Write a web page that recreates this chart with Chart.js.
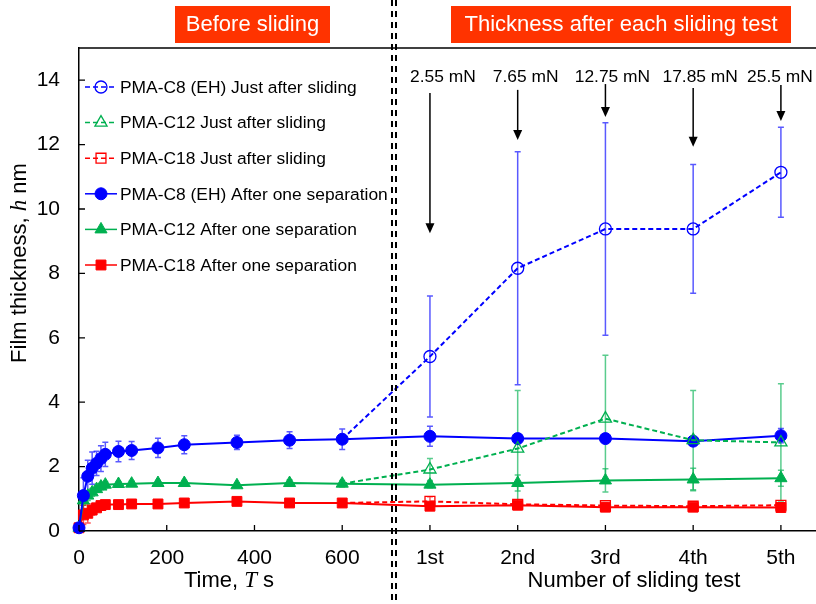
<!DOCTYPE html>
<html>
<head>
<meta charset="utf-8">
<script src="https://cdn.jsdelivr.net/npm/chart.js@4.4.1/dist/chart.umd.min.js"></script>
<style>
  html, body { margin: 0; padding: 0; background: #fff; }
  #wrap { width: 816px; height: 604px; }
</style>
</head>
<body>
<div id="wrap"><canvas id="chart" width="816" height="604"></canvas></div>
<script>
// --- data ---
const timeS = [0, 10, 20, 30, 40, 50, 60, 90, 120, 180, 240, 360, 480, 600];
const slidingTests = ['1st', '2nd', '3rd', '4th', '5th'];
const slidingX = [800, 1000, 1200, 1400, 1600];     // where the tests sit on the shared x axis
const loadLabels = ['2.55 mN', '7.65 mN', '12.75 mN', '17.85 mN', '25.5 mN'];
const xTickValues = [0, 200, 400, 600, 800, 1000, 1200, 1400, 1600];
const yTickValues = [0, 2, 4, 6, 8, 10, 12, 14];

// after one separation: time points then the 5 sliding tests
const c8Sep      = [0.1, 1.1, 1.7, 1.95, 2.1, 2.25, 2.38, 2.47, 2.5, 2.58, 2.68, 2.75, 2.82, 2.85,  2.94, 2.87, 2.87, 2.79, 2.96];
const c8SepErr   = [0.05, 0.55, 0.5, 0.5, 0.38, 0.4, 0.38, 0.32, 0.28, 0.3, 0.28, 0.22, 0.26, 0.32,  0.31, 0.15, 0.1, 0.1, 0.22];
const c12Sep     = [0.1, 0.95, 1.1, 1.2, 1.3, 1.38, 1.44, 1.46, 1.47, 1.49, 1.49, 1.42, 1.49, 1.47,  1.44, 1.49, 1.57, 1.6, 1.64];
const c12SepErr  = [0.05, 0.15, 0.15, 0.12, 0.1, 0.1, 0.1, 0.08, 0.08, 0.08, 0.08, 0.08, 0.1, 0.1,  0.1, 0.25, 0.36, 0.35, 0.25];
const c18Sep     = [0.1, 0.5, 0.55, 0.65, 0.72, 0.79, 0.82, 0.82, 0.84, 0.84, 0.87, 0.92, 0.87, 0.87,  0.77, 0.8, 0.74, 0.74, 0.73];
const c18SepErr  = [0.05, 0.3, 0.3, 0.15, 0.1, 0.08, 0.08, 0.06, 0.06, 0.06, 0.06, 0.06, 0.06, 0.06,  0.06, 0.06, 0.06, 0.06, 0.06];

// just after sliding: starts from the 600 s point, then the 5 tests
const c8Just     = [2.85, 5.42, 8.16, 9.38, 9.38, 11.14];
const c8JustErr  = [0, 1.88, 3.62, 3.3, 2.0, 1.4];
const c12Just    = [1.47, 1.91, 2.56, 3.49, 2.82, 2.75];
const c12JustErr = [0, 0.34, 1.8, 1.97, 1.54, 1.82];
const c18Just    = [0.87, 0.92, 0.83, 0.79, 0.77, 0.8];
const c18JustErr = [0, 0.14, 0.08, 0.08, 0.08, 0.08];

// arrows for the loads (in thickness units)
const arrowFrom = [13.6, 13.7, 13.88, 13.76, 13.85];
const arrowTo   = [9.25, 12.14, 12.86, 11.93, 12.73];
const labelShift = [13, 8, 7, 7, -1];

const BLUE = '#0000FF', GREEN = '#00B050', RED = '#FF0000';
const FONT = "'Liberation Sans', Arial, sans-serif";
const SERIF = "'Liberation Serif', 'Times New Roman', serif";

const sepX = timeS.concat(slidingX);
const justX = [600].concat(slidingX);
const pts = (xs, ys) => xs.map((x, i) => ({ x: x, y: ys[i] }));

function series(label, xs, ys, err, color, style, radius, open) {
    return {
        label: label,
        data: pts(xs, ys),
        err: err,
        borderColor: color,
        borderWidth: 2,
        borderDash: open ? [5, 3] : [],
        pointStyle: style,
        pointRadius: open ? ys.map((v, i) => i === 0 ? 0 : radius) : radius,
        pointBorderWidth: open ? 1.3 : 1,
        pointBorderColor: color,
        pointBackgroundColor: open ? 'rgba(255,255,255,0)' : color,
        tension: 0,
        clip: false
    };
}

const datasets = [
    series('PMA-C8 (EH) Just after sliding', justX, c8Just, c8JustErr, BLUE, 'circle', 6, true),
    series('PMA-C12 Just after sliding', justX, c12Just, c12JustErr, GREEN, 'triangle', 7, true),
    series('PMA-C18 Just after sliding', justX, c18Just, c18JustErr, RED, 'rect', 7, true),
    series('PMA-C8 (EH) After one separation', sepX, c8Sep, c8SepErr, BLUE, 'circle', 6, false),
    series('PMA-C12 After one separation', sepX, c12Sep, c12SepErr, GREEN, 'triangle', 7, false),
    series('PMA-C18 After one separation', sepX, c18Sep, c18SepErr, RED, 'rect', 7, false)
];

function fade(hex, a) {
    const n = parseInt(hex.slice(1), 16);
    return 'rgba(' + (n >> 16) + ',' + ((n >> 8) & 255) + ',' + (n & 255) + ',' + a + ')';
}

// draw runs of text with mixed fonts around a centre point
function drawRuns(ctx, runs, cx, cy, rotate) {
    ctx.save();
    ctx.translate(cx, cy);
    if (rotate) ctx.rotate(-Math.PI / 2);
    let total = 0;
    runs.forEach(r => { ctx.font = r.font; total += ctx.measureText(r.text).width; });
    let x = -total / 2;
    ctx.textBaseline = 'middle';
    ctx.textAlign = 'left';
    ctx.fillStyle = '#000';
    runs.forEach(r => {
        ctx.font = r.font;
        ctx.fillText(r.text, x, 0);
        x += ctx.measureText(r.text).width;
    });
    ctx.restore();
}

const errorBars = {
    id: 'errorBars',
    beforeDatasetsDraw(chart) {
        const ctx = chart.ctx, xs = chart.scales.x, ys = chart.scales.y;
        ctx.save();
        chart.data.datasets.forEach(ds => {
            ctx.strokeStyle = fade(ds.borderColor, 0.65);
            ctx.lineWidth = 1.5;
            ds.data.forEach((p, i) => {
                const e = ds.err[i];
                if (!e) return;
                const px = xs.getPixelForValue(p.x);
                const top = ys.getPixelForValue(p.y + e);
                const bot = ys.getPixelForValue(p.y - e);
                ctx.beginPath();
                ctx.moveTo(px, top); ctx.lineTo(px, bot);
                ctx.moveTo(px - 3, top); ctx.lineTo(px + 3, top);
                ctx.moveTo(px - 3, bot); ctx.lineTo(px + 3, bot);
                ctx.stroke();
            });
        });
        ctx.restore();
    }
};

const decorations = {
    id: 'decorations',
    afterDraw(chart) {
        const ctx = chart.ctx, area = chart.chartArea;
        const xs = chart.scales.x, ys = chart.scales.y;
        ctx.save();

        // frame top line
        ctx.strokeStyle = '#000';
        ctx.lineWidth = 1.5;
        ctx.beginPath();
        ctx.moveTo(area.left, area.top); ctx.lineTo(chart.width, area.top);
        ctx.stroke();

        // inward tick marks
        ctx.lineWidth = 1.3;
        ctx.beginPath();
        xTickValues.forEach(v => {
            const px = xs.getPixelForValue(v);
            ctx.moveTo(px, area.bottom); ctx.lineTo(px, area.bottom - 6);
        });
        yTickValues.forEach(v => {
            const py = ys.getPixelForValue(v);
            ctx.moveTo(area.left, py); ctx.lineTo(area.left + 6, py);
        });
        ctx.stroke();

        // double dashed separator
        ctx.lineWidth = 2;
        ctx.setLineDash([6, 5]);
        [713, 723].forEach(v => {
            const px = Math.round(xs.getPixelForValue(v));
            ctx.beginPath();
            ctx.moveTo(px, 0); ctx.lineTo(px, chart.height);
            ctx.stroke();
        });
        ctx.setLineDash([]);

        // header boxes
        ctx.fillStyle = '#FF3300';
        ctx.fillRect(175, 6, 155, 37);
        ctx.fillRect(451, 6, 340, 37);
        ctx.fillStyle = '#fff';
        ctx.font = '22px ' + FONT;
        ctx.textAlign = 'center';
        ctx.textBaseline = 'middle';
        ctx.fillText('Before sliding', 252.5, 25);
        ctx.fillText('Thickness after each sliding test', 621, 25);

        // load arrows and labels
        ctx.fillStyle = '#000';
        ctx.strokeStyle = '#000';
        ctx.lineWidth = 1.5;
        ctx.font = '17.4px ' + FONT;
        slidingX.forEach((v, i) => {
            const px = xs.getPixelForValue(v);
            const y0 = ys.getPixelForValue(arrowFrom[i]);
            const y1 = ys.getPixelForValue(arrowTo[i]);
            ctx.beginPath();
            ctx.moveTo(px, y0); ctx.lineTo(px, y1 - 8);
            ctx.stroke();
            ctx.beginPath();
            ctx.moveTo(px - 4.5, y1 - 10); ctx.lineTo(px + 4.5, y1 - 10); ctx.lineTo(px, y1);
            ctx.closePath();
            ctx.fill();
            ctx.fillText(loadLabels[i], px + labelShift[i], ys.getPixelForValue(14.1));
        });

        // axis titles
        drawRuns(ctx, [
            { text: 'Film thickness, ', font: '22px ' + FONT },
            { text: 'h', font: 'italic 23px ' + SERIF },
            { text: ' nm', font: '22px ' + FONT }
        ], 20, 263, true);
        drawRuns(ctx, [
            { text: 'Time, ', font: '22px ' + FONT },
            { text: 'T', font: 'italic 23px ' + SERIF },
            { text: ' s', font: '22px ' + FONT }
        ], 229, 581, false);
        drawRuns(ctx, [{ text: 'Number of sliding test', font: '22px ' + FONT }], 634, 581, false);

        // legend
        chart.data.datasets.forEach((ds, i) => {
            const y = 87 + i * 35.6;
            ctx.strokeStyle = ds.borderColor;
            ctx.lineWidth = 1.5;
            ctx.setLineDash(ds.borderDash);
            ctx.beginPath();
            ctx.moveTo(85, y); ctx.lineTo(117, y);
            ctx.stroke();
            ctx.setLineDash([]);
            ctx.fillStyle = ds.pointBackgroundColor;
            ctx.lineWidth = ds.pointBorderWidth;
            const r = ds.pointStyle === 'circle' ? 6 : 7;
            Chart.helpers.drawPoint(ctx, { pointStyle: ds.pointStyle, radius: r, borderWidth: ds.pointBorderWidth, rotation: 0 }, 101, y);
            ctx.fillStyle = '#000';
            ctx.font = '17.4px ' + FONT;
            ctx.textAlign = 'left';
            ctx.textBaseline = 'middle';
            ctx.fillText(ds.label, 120, y + 1);
        });

        ctx.restore();
    }
};

new Chart(document.getElementById('chart'), {
    type: 'line',
    data: { datasets: datasets },
    options: {
        responsive: false,
        animation: false,
        events: [],
        layout: { autoPadding: false, padding: { top: 48, right: 0, left: 0, bottom: 0 } },
        plugins: { legend: { display: false }, tooltip: { enabled: false } },
        scales: {
            x: {
                type: 'linear',
                min: 0,
                max: 1680,
                afterBuildTicks: s => { s.ticks = xTickValues.map(v => ({ value: v })); },
                afterFit: s => { s.height = 73; s.paddingLeft = 0; s.paddingRight = 0; },
                grid: { display: false, drawTicks: false },
                border: { display: true, color: '#000', width: 1.5 },
                ticks: {
                    autoSkip: false,
                    maxRotation: 0,
                    padding: 15,
                    color: '#000',
                    font: { size: 21, family: FONT },
                    callback: v => v <= 600 ? String(v) : slidingTests[(v - 800) / 200]
                }
            },
            y: {
                min: 0,
                max: 15,
                afterBuildTicks: s => { s.ticks = yTickValues.map(v => ({ value: v })); },
                afterFit: s => { s.width = 79; s.paddingTop = 0; s.paddingBottom = 0; },
                grid: { display: false, drawTicks: false },
                border: { display: true, color: '#000', width: 1.5 },
                ticks: {
                    padding: 19,
                    color: '#000',
                    font: { size: 21, family: FONT }
                }
            }
        }
    },
    plugins: [errorBars, decorations]
});
</script>
</body>
</html>
